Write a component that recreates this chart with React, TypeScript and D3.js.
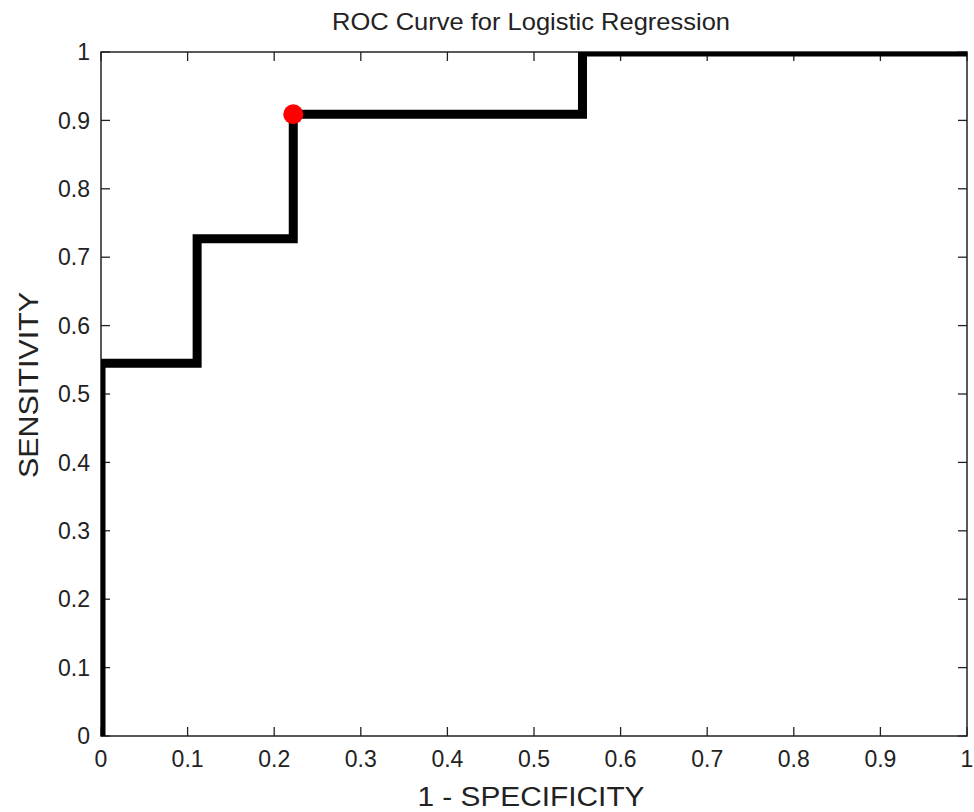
import React from "react";
import * as d3 from "d3";

const fprValues = [0, 0, 0.111, 0.111, 0.222, 0.222, 0.556, 0.556, 1];
const tprValues = [0, 0.545, 0.545, 0.727, 0.727, 0.909, 0.909, 1, 1];
const optimalPoint = [0.222, 0.909];
const tickValues = [0, 0.1, 0.2, 0.3, 0.4, 0.5, 0.6, 0.7, 0.8, 0.9, 1];
const tickLabels = ["0", "0.1", "0.2", "0.3", "0.4", "0.5", "0.6", "0.7", "0.8", "0.9", "1"];
const titleText = "ROC Curve for Logistic Regression";
const xLabelText = "1 - SPECIFICITY";
const yLabelText = "SENSITIVITY";

const W = 974;
const H = 812;
const L = 101, R = 967, T = 52, B = 736;
const FONT = "'Liberation Sans', Arial, sans-serif";

export default function App() {
  const x = d3.scaleLinear().domain([0, 1]).range([L, R]);
  const y = d3.scaleLinear().domain([0, 1]).range([B, T]);
  const pts: [number, number][] = fprValues.map((f, i) => [f, tprValues[i]]);
  const line = d3
    .line<[number, number]>()
    .x((d) => x(d[0]))
    .y((d) => y(d[1]));
  const tickLen = 9;
  const axisColor = "#222";
  return (
    <svg
      width={W}
      height={H}
      style={{ position: "absolute", left: 0, top: 0, background: "#fff" }}
      fontFamily={FONT}
    >
      <rect x={0} y={0} width={W} height={H} fill="#fff" />
      <defs>
        <clipPath id="plotclip">
          <rect x={L} y={T} width={R - L} height={B - T} />
        </clipPath>
      </defs>
      <text
        x={531}
        y={30}
        textAnchor="middle"
        fontSize={24}
        fill="#222"
        textLength={398}
        lengthAdjust="spacingAndGlyphs"
      >
        {titleText}
      </text>
      {tickValues.map((t, i) => (
        <g key={"x" + i}>
          <line x1={x(t)} x2={x(t)} y1={B} y2={B - tickLen} stroke={axisColor} strokeWidth={1.3} />
          <line x1={x(t)} x2={x(t)} y1={T} y2={T + tickLen} stroke={axisColor} strokeWidth={1.3} />
          <text x={x(t)} y={767} textAnchor="middle" fontSize={23} fill="#222">
            {tickLabels[i]}
          </text>
        </g>
      ))}
      {tickValues.map((t, i) => (
        <g key={"y" + i}>
          <line x1={L} x2={L + tickLen} y1={y(t)} y2={y(t)} stroke={axisColor} strokeWidth={1.3} />
          <line x1={R} x2={R - tickLen} y1={y(t)} y2={y(t)} stroke={axisColor} strokeWidth={1.3} />
          <text x={90} y={y(t)} dy="0.36em" textAnchor="end" fontSize={23} fill="#222">
            {tickLabels[i]}
          </text>
        </g>
      ))}
      <rect x={L} y={T} width={R - L} height={B - T} fill="none" stroke={axisColor} strokeWidth={1.5} />
      <path
        d={line(pts) || ""}
        fill="none"
        stroke="#000"
        strokeWidth={9}
        strokeLinejoin="miter"
        clipPath="url(#plotclip)"
      />
      <circle cx={x(optimalPoint[0])} cy={y(optimalPoint[1])} r={10} fill="#ff0000" />
      <text
        x={531}
        y={806}
        textAnchor="middle"
        fontSize={27}
        fill="#222"
        textLength={227}
        lengthAdjust="spacingAndGlyphs"
      >
        {xLabelText}
      </text>
      <text
        transform="translate(38,385) rotate(-90)"
        textAnchor="middle"
        fontSize={27}
        fill="#222"
        textLength={186}
        lengthAdjust="spacingAndGlyphs"
      >
        {yLabelText}
      </text>
    </svg>
  );
}
